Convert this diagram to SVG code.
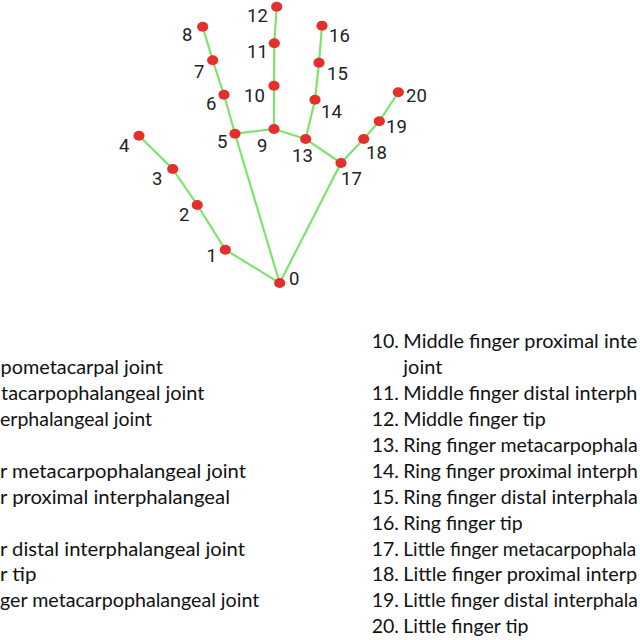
<svg xmlns="http://www.w3.org/2000/svg" width="640" height="640" viewBox="0 0 640 640">
<style>
.bone{stroke:#7ee36c;stroke-width:2.2;fill:none;stroke-linecap:round}
.dot{fill:#e3302c}
.lbl{font-family:Roboto,"Noto Sans",sans-serif;font-size:18.5px;fill:#222}
.txt{font-family:Lato,"Open Sans",sans-serif;font-size:19.5px;fill:#111}
</style>
<rect width="640" height="640" fill="#ffffff"/>
<g id="connectors">
<polyline class="bone" points="279.7,283 225.3,249.7 197.3,205 172.7,169 139,135.7"/>
<polyline class="bone" points="279.7,283 235,133.7 224,94.7 212.7,60.3 202.7,26.7"/>
<polyline class="bone" points="235,133.7 274,129 305.7,139 341,163"/>
<polyline class="bone" points="274,129 274,85.7 274.3,43.3 276.7,6.7"/>
<polyline class="bone" points="305.7,139 315,99.7 319,62.7 322,25.7"/>
<polyline class="bone" points="279.7,283 341,163 363.7,139 379.3,121.3 398.3,92.3"/>
</g>
<g id="n0"><ellipse class="dot" cx="279.7" cy="283" rx="5.6" ry="5"/><text class="lbl" x="289" y="285">0</text></g>
<g id="n1"><ellipse class="dot" cx="225.3" cy="249.7" rx="5.6" ry="5"/><text class="lbl" x="206.5" y="261.7">1</text></g>
<g id="n2"><ellipse class="dot" cx="197.3" cy="205" rx="5.6" ry="5"/><text class="lbl" x="179" y="220.7">2</text></g>
<g id="n3"><ellipse class="dot" cx="172.7" cy="169" rx="5.6" ry="5"/><text class="lbl" x="152" y="185">3</text></g>
<g id="n4"><ellipse class="dot" cx="139" cy="135.7" rx="5.6" ry="5"/><text class="lbl" x="119" y="151.7">4</text></g>
<g id="n5"><ellipse class="dot" cx="235" cy="133.7" rx="5.6" ry="5"/><text class="lbl" x="217" y="148.3">5</text></g>
<g id="n6"><ellipse class="dot" cx="224" cy="94.7" rx="5.6" ry="5"/><text class="lbl" x="206" y="110">6</text></g>
<g id="n7"><ellipse class="dot" cx="212.7" cy="60.3" rx="5.6" ry="5"/><text class="lbl" x="194" y="78.3">7</text></g>
<g id="n8"><ellipse class="dot" cx="202.7" cy="26.7" rx="5.6" ry="5"/><text class="lbl" x="182" y="41">8</text></g>
<g id="n9"><ellipse class="dot" cx="274" cy="129" rx="5.6" ry="5"/><text class="lbl" x="257" y="151.7">9</text></g>
<g id="n10"><ellipse class="dot" cx="274" cy="85.7" rx="5.6" ry="5"/><text class="lbl" x="244" y="101.7">10</text></g>
<g id="n11"><ellipse class="dot" cx="274.3" cy="43.3" rx="5.6" ry="5"/><text class="lbl" x="247" y="58.3">11</text></g>
<g id="n12"><ellipse class="dot" cx="276.7" cy="6.7" rx="5.6" ry="5"/><text class="lbl" x="247" y="21.7">12</text></g>
<g id="n13"><ellipse class="dot" cx="305.7" cy="139" rx="5.6" ry="5"/><text class="lbl" x="292" y="162.3">13</text></g>
<g id="n14"><ellipse class="dot" cx="315" cy="99.7" rx="5.6" ry="5"/><text class="lbl" x="321" y="118.3">14</text></g>
<g id="n15"><ellipse class="dot" cx="319" cy="62.7" rx="5.6" ry="5"/><text class="lbl" x="327" y="80">15</text></g>
<g id="n16"><ellipse class="dot" cx="322" cy="25.7" rx="5.6" ry="5"/><text class="lbl" x="329" y="41.7">16</text></g>
<g id="n17"><ellipse class="dot" cx="341" cy="163" rx="5.6" ry="5"/><text class="lbl" x="341" y="185">17</text></g>
<g id="n18"><ellipse class="dot" cx="363.7" cy="139" rx="5.6" ry="5"/><text class="lbl" x="366" y="159.3">18</text></g>
<g id="n19"><ellipse class="dot" cx="379.3" cy="121.3" rx="5.6" ry="5"/><text class="lbl" x="386" y="133.3">19</text></g>
<g id="n20"><ellipse class="dot" cx="398.3" cy="92.3" rx="5.6" ry="5"/><text class="lbl" x="406" y="101.7">20</text></g>
<g id="legend-left" class="txt">
<text x="0.6" y="374.2" textLength="162.3" lengthAdjust="spacingAndGlyphs">pometacarpal joint</text>
<text x="1" y="400.1" textLength="203.5" lengthAdjust="spacingAndGlyphs">tacarpophalangeal joint</text>
<text x="0" y="426" textLength="152" lengthAdjust="spacingAndGlyphs">erphalangeal joint</text>
<text x="0" y="477.8" textLength="246" lengthAdjust="spacingAndGlyphs">r metacarpophalangeal joint</text>
<text x="0" y="503.7" textLength="230" lengthAdjust="spacingAndGlyphs">r proximal interphalangeal</text>
<text x="0" y="555.5" textLength="245" lengthAdjust="spacingAndGlyphs">r distal interphalangeal joint</text>
<text x="0" y="581.4" textLength="36.5" lengthAdjust="spacingAndGlyphs">r tip</text>
<text x="0" y="607.3" textLength="259.3" lengthAdjust="spacingAndGlyphs">ger metacarpophalangeal joint</text>
</g>
<g id="legend-right" class="txt">
<text x="371.7" y="348.3">10.</text><text x="403.3" y="348.3" textLength="234" lengthAdjust="spacingAndGlyphs">Middle finger proximal inte</text>
<text x="403.3" y="374.2" textLength="39" lengthAdjust="spacingAndGlyphs">joint</text>
<text x="371.7" y="400.1">11.</text><text x="403.3" y="400.1" textLength="234" lengthAdjust="spacingAndGlyphs">Middle finger distal interph</text>
<text x="371.7" y="426">12.</text><text x="403.3" y="426" textLength="142.4" lengthAdjust="spacingAndGlyphs">Middle finger tip</text>
<text x="371.7" y="451.9">13.</text><text x="403.3" y="451.9" textLength="234.5" lengthAdjust="spacingAndGlyphs">Ring finger metacarpophala</text>
<text x="371.7" y="477.8">14.</text><text x="403.3" y="477.8" textLength="234.5" lengthAdjust="spacingAndGlyphs">Ring finger proximal interph</text>
<text x="371.7" y="503.7">15.</text><text x="403.3" y="503.7" textLength="234.5" lengthAdjust="spacingAndGlyphs">Ring finger distal interphala</text>
<text x="371.7" y="529.6">16.</text><text x="403.3" y="529.6" textLength="119.4" lengthAdjust="spacingAndGlyphs">Ring finger tip</text>
<text x="371.7" y="555.5">17.</text><text x="403.3" y="555.5" textLength="233" lengthAdjust="spacingAndGlyphs" font-size="18.6">Little finger metacarpophala</text>
<text x="371.7" y="581.4">18.</text><text x="403.3" y="581.4" textLength="233.8" lengthAdjust="spacingAndGlyphs">Little finger proximal interp</text>
<text x="371.7" y="607.3">19.</text><text x="403.3" y="607.3" textLength="234.5" lengthAdjust="spacingAndGlyphs">Little finger distal interphala</text>
<text x="371.7" y="633.2">20.</text><text x="403.3" y="633.2" textLength="125.2" lengthAdjust="spacingAndGlyphs">Little finger tip</text>
</g>
</svg>
